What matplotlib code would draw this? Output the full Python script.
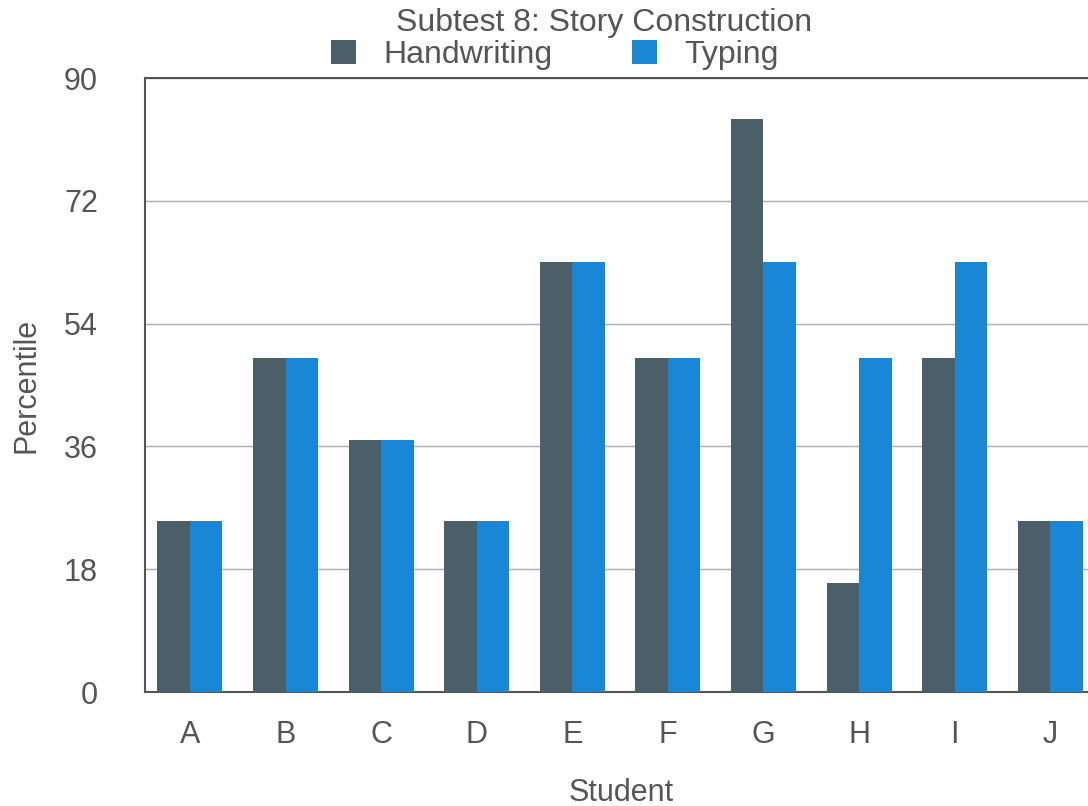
import matplotlib
matplotlib.use('Agg')
import matplotlib.pyplot as plt
import numpy as np

students = ['A', 'B', 'C', 'D', 'E', 'F', 'G', 'H', 'I', 'J']
handwriting = [25, 49, 37, 25, 63, 49, 84, 16, 49, 25]
typing = [25, 49, 37, 25, 63, 49, 63, 49, 63, 25]
yticks = [0, 18, 36, 54, 72, 90]

plt.rcParams['font.family'] = ['Liberation Sans', 'DejaVu Sans']

fig = plt.figure(figsize=(10.88, 8.06), dpi=100)
# right edge goes past the figure, the reference is cropped there
ax = fig.add_axes([145 / 1088, 1 - 692 / 806, 953 / 1088, 614 / 806])

x = np.arange(len(students))
w = 0.34
ax.bar(x - w / 2, handwriting, w, color='#4b5f69', label='Handwriting', zorder=3)
ax.bar(x + w / 2, typing, w, color='#1a87d6', label='Typing', zorder=3)

ax.set_xlim(-0.47, 9.5)
ax.set_ylim(0, 90)
ax.set_yticks(yticks)
ax.set_xticks(x)
ax.set_xticklabels(students)
ax.yaxis.grid(True, color='#a8b0b0', linewidth=1.0, zorder=0)
ax.tick_params(axis='both', length=0, labelsize=22, labelcolor='#555555')
ax.tick_params(axis='y', pad=34)
ax.tick_params(axis='x', pad=20)
for s in ['left', 'bottom', 'top']:
    ax.spines[s].set_color('#555555')
    ax.spines[s].set_linewidth(1.5)
ax.spines['right'].set_visible(False)

ax.set_ylabel('Percentile', fontsize=22, color='#555555', labelpad=16)
ax.set_xlabel('Student', fontsize=22, color='#555555', labelpad=20)

fig.text(0.555, 0.972, 'Subtest 8: Story Construction', ha='center', va='center',
         fontsize=23, color='#555555')
ax.legend(loc='center', bbox_to_anchor=(0.51, 0.932), bbox_transform=fig.transFigure,
          ncol=2, frameon=False, fontsize=23, handlelength=0.78, handleheight=0.78,
          columnspacing=2.5, handletextpad=0.85, labelcolor='#555555',
          borderpad=0, borderaxespad=0)

fig.savefig('out.png', dpi=100)
